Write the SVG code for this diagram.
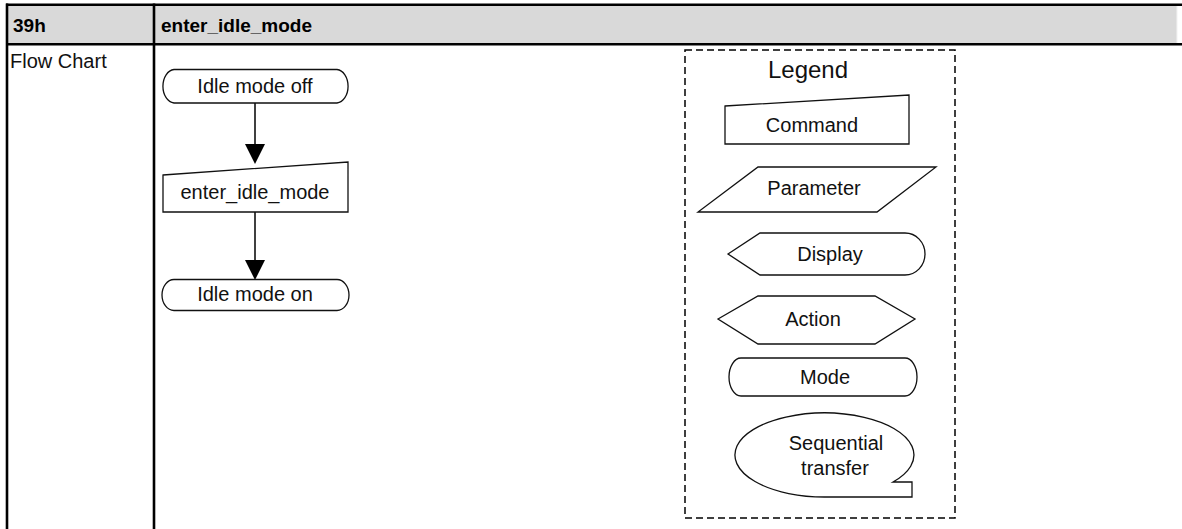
<svg xmlns="http://www.w3.org/2000/svg" width="1182" height="529" viewBox="0 0 1182 529">
<style>
.t{font-family:"Liberation Sans",Arial,sans-serif;font-size:20px;fill:#111;}
.h{font-family:"Liberation Sans",Arial,sans-serif;font-size:19px;font-weight:bold;fill:#000;}
.s{fill:#fff;stroke:#111;stroke-width:1.3;}
.c{stroke:#000;stroke-width:1.5;fill:none;}
.tb{stroke:#000;stroke-width:2.6;}
</style>
<defs>
<marker id="ah" viewBox="0 0 20 20" markerWidth="20" markerHeight="20" refX="0" refY="10" orient="auto" markerUnits="userSpaceOnUse">
<path d="M0,0 L20,10 L0,20 Z" fill="#000"/>
</marker>
</defs>
<rect width="1182" height="529" fill="#fff"/>
<g id="table">
<rect x="7" y="4" width="1170" height="40" fill="#d9d9d9"/>
<line x1="1177" y1="6" x2="1177" y2="43" stroke="#f2f2f2" stroke-width="1"/>
<line class="tb" x1="6" y1="4.7" x2="1182" y2="4.7"/>
<line class="tb" x1="6" y1="44.2" x2="1182" y2="44.2"/>
<line class="tb" x1="7" y1="3.5" x2="7" y2="529"/>
<line class="tb" x1="154" y1="3.5" x2="154" y2="529"/>
<text class="h" x="13" y="31.5">39h</text>
<text class="h" x="161" y="31.5">enter_idle_mode</text>
<text class="t" x="10" y="68">Flow Chart</text>
</g>
<g id="connectors">
<line class="c" x1="255" y1="103" x2="255" y2="144" marker-end="url(#ah)"/>
<line class="c" x1="255" y1="212" x2="255" y2="260" marker-end="url(#ah)"/>
</g>
<g id="idle-off">
<path class="s" d="M174,69.5 H337 A12,16.8 0 0 1 337,103 H174 A12,16.8 0 0 1 174,69.5 Z"/>
<text class="t" x="255" y="93" text-anchor="middle">Idle mode off</text>
</g>
<g id="cmd-enter">
<path class="s" d="M163,175 L348,162 L348,212 L163,212 Z"/>
<text class="t" x="255" y="199" text-anchor="middle">enter_idle_mode</text>
</g>
<g id="idle-on">
<path class="s" d="M174,279.5 H337 A12,15.5 0 0 1 337,310.5 H174 A12,15.5 0 0 1 174,279.5 Z"/>
<text class="t" x="255" y="301" text-anchor="middle">Idle mode on</text>
</g>
<g id="legend">
<rect x="685" y="50" width="270" height="468" fill="none" stroke="#000" stroke-width="1.5" stroke-dasharray="7,4"/>
<text class="t" x="808" y="78" text-anchor="middle" style="font-size:24px">Legend</text>
</g>
<g id="leg-command">
<path class="s" d="M725,106 L909,95 L909,144 L725,144 Z"/>
<text class="t" x="812" y="132" text-anchor="middle">Command</text>
</g>
<g id="leg-parameter">
<path class="s" d="M758,167 L936,167 L877,212 L698,212 Z"/>
<text class="t" x="814" y="195" text-anchor="middle">Parameter</text>
</g>
<g id="leg-display">
<path class="s" d="M728,254 L760,233 H905 A20,21 0 0 1 905,275 H760 Z"/>
<text class="t" x="830" y="261" text-anchor="middle">Display</text>
</g>
<g id="leg-action">
<path class="s" d="M718,319 L758,296 H875 L915,319 L875,344 H758 Z"/>
<text class="t" x="813" y="326" text-anchor="middle">Action</text>
</g>
<g id="leg-mode">
<path class="s" d="M741,358 H905 A12,19 0 0 1 905,396 H741 A12,19 0 0 1 741,358 Z"/>
<text class="t" x="825" y="384" text-anchor="middle">Mode</text>
</g>
<g id="leg-seq">
<path class="s" d="M893,482 A89.5,42 0 1 0 826,497 H912 V482 Z"/>
<text class="t" x="836" y="450" text-anchor="middle">Sequential</text>
<text class="t" x="835" y="475" text-anchor="middle">transfer</text>
</g>
</svg>
